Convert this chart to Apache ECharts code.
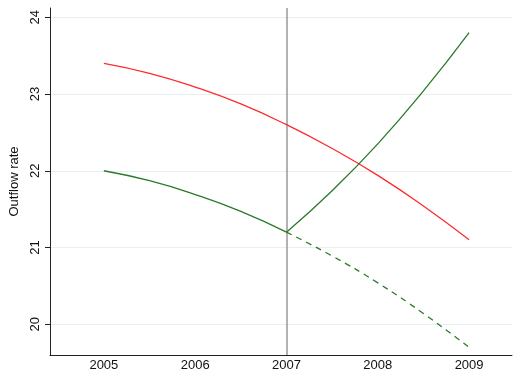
<!DOCTYPE html>
<html><head><meta charset="utf-8">
<script src="https://cdn.jsdelivr.net/npm/echarts@6/dist/echarts.min.js"></script>
<style>html,body{margin:0;padding:0;background:#fff}#c{width:514px;height:374px}</style>
</head><body><div id="c"></div>
<script>
var years = [2005, 2005.5, 2006, 2006.5, 2007, 2007.5, 2008, 2008.5, 2009];
var redValues = [23.4, 23.27, 23.09, 22.87, 22.6, 22.29, 21.94, 21.54, 21.1];
var greenPreYears = [2005, 2005.5, 2006, 2006.5, 2007];
var greenPreValues = [22.0, 21.87, 21.69, 21.47, 21.2];
var greenPostYears = [2007, 2007.5, 2008, 2008.5, 2009];
var greenPostValues = [21.2, 21.74, 22.35, 23.04, 23.8];
var greenCfYears = [2007, 2007.5, 2008, 2008.5, 2009];
var greenCfValues = [21.2, 20.89, 20.54, 20.14, 19.7];
var xTicks = [2005, 2006, 2007, 2008, 2009];
var yTicks = [20, 21, 22, 23, 24];
var eventYear = 2007;

function pairs(xs, ys){ return xs.map(function(x,i){return [x, ys[i]];}); }
var font = '"Liberation Sans", Arial, Helvetica, sans-serif';
var chart = echarts.init(document.getElementById('c'), null, {renderer:'canvas'});
chart.setOption({
  animation:false,
  grid:{left:50, right:2, top:8, bottom:19, containLabel:false},
  xAxis:{type:'value', min:2004.41, max:2009.47,
    axisLine:{show:true, onZero:false, lineStyle:{color:'#222', width:1}},
    axisTick:{show:false},
    splitLine:{show:false},
    axisLabel:{customValues:xTicks, color:'#111', fontFamily:font, fontSize:13, margin:4,
      formatter:function(v){return String(v);}}
  },
  yAxis:{type:'value', min:19.6, max:24.12,
    name:'Outflow rate', nameLocation:'middle', nameGap:23, nameRotate:90,
    nameTextStyle:{color:'#111', fontFamily:font, fontSize:13},
    axisLine:{show:true, lineStyle:{color:'#222', width:1}},
    axisTick:{show:true, customValues:yTicks, length:5, lineStyle:{color:'#222'}},
    splitLine:{show:false},
    axisLabel:{customValues:yTicks, rotate:90, color:'#111', fontFamily:font, fontSize:13, margin:8}
  },
  series:[
    {type:'line', data:[], silent:true, z:0, zlevel:0,
      markLine:{silent:true, symbol:'none', label:{show:false}, z:0,
        lineStyle:{color:'#e8eff1', width:1, type:'solid'},
        data:yTicks.map(function(v){return {yAxis:v};})}},
    {type:'line', data:[], silent:true, z:1,
      markLine:{silent:true, symbol:'none', label:{show:false}, z:1,
        lineStyle:{color:'#999', width:1.5, type:'solid'},
        data:[{xAxis:eventYear}]}},
    {type:'line', z:5, data:pairs(years, redValues), smooth:true, showSymbol:false,
      lineStyle:{color:'#ff2a2a', width:1.3}},
    {type:'line', z:5, data:pairs(greenPreYears, greenPreValues), smooth:true, showSymbol:false,
      lineStyle:{color:'#2a7a2a', width:1.3}},
    {type:'line', z:5, data:pairs(greenPostYears, greenPostValues), smooth:true, showSymbol:false,
      lineStyle:{color:'#2a7a2a', width:1.3}},
    {type:'line', z:5, data:pairs(greenCfYears, greenCfValues), smooth:true, showSymbol:false,
      lineStyle:{color:'#2a7a2a', width:1.3, type:[6,5]}}
  ]
});
</script></body></html>
